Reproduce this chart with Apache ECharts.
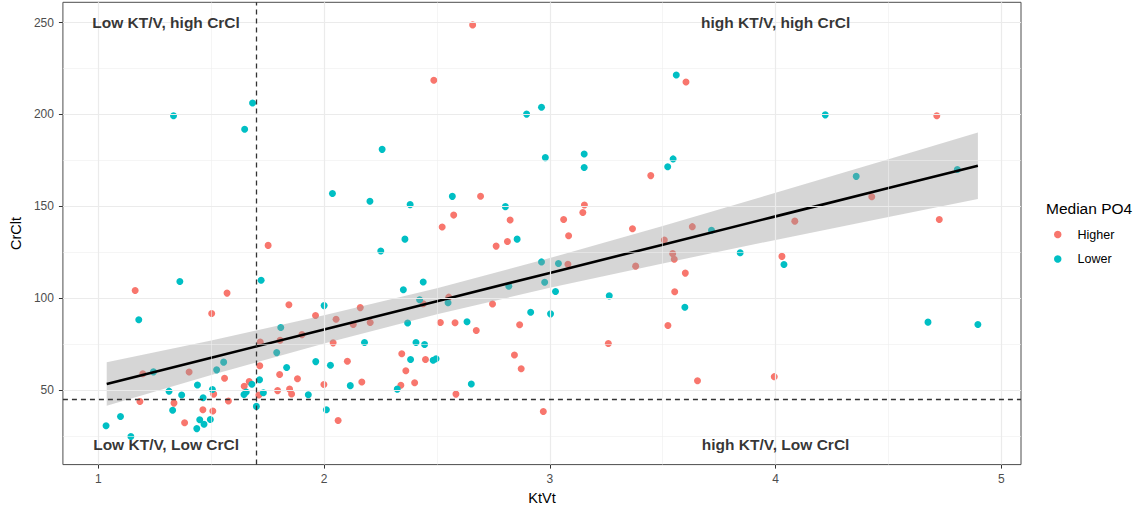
<!DOCTYPE html>
<html><head><meta charset="utf-8">
<script src="https://cdn.jsdelivr.net/npm/echarts@6/dist/echarts.min.js"></script>
<style>html,body{margin:0;padding:0;background:#fff}#c{width:1134px;height:510px}</style>
</head><body><div id="c"></div>
<script>
// ---- data (KtVt, CrClt) ----
const higher = [
[1.752,128.7],[1.163,104.1],[1.570,102.7],[1.502,91.6],[1.844,96.4],[1.962,90.5],[2.053,88.5],[2.160,94.8],
[2.204,86.7],[2.129,85.6],[1.902,80.1],[1.805,77.0],[1.717,76.0],[2.040,75.6],[1.402,59.7],[1.197,58.8],
[2.103,65.6],[1.715,63.1],[1.559,56.3],[1.803,58.4],[1.882,56.1],[1.668,54.5],[1.646,52.0],[1.999,52.9],
[2.167,54.3],[1.511,47.7],[1.711,47.2],[1.794,49.6],[1.847,50.4],[1.856,47.8],[1.184,43.7],[1.335,42.8],
[1.576,43.9],[1.463,39.2],[1.507,38.5],[1.382,32.1],[2.062,33.3],
[2.658,248.8],[2.486,218.6],[3.603,217.7],[3.447,166.7],[2.693,155.5],[2.574,145.2],[2.523,138.7],[2.824,142.5],
[3.153,150.7],[3.146,146.6],[3.061,142.8],[3.083,133.9],[3.366,137.8],[3.631,138.9],[3.507,131.6],[2.762,128.3],
[2.812,130.8],[3.080,118.4],[2.439,96.9],[2.552,100.5],[2.746,96.8],[3.380,117.4],[3.544,124.2],[3.551,121.1],
[3.600,113.6],[3.553,103.4],[3.523,85.1],[3.654,55.0],[2.515,86.7],[2.580,86.6],[2.674,82.3],[2.866,85.5],
[2.344,69.7],[2.449,66.5],[2.843,69.0],[2.873,61.5],[3.259,75.3],[2.362,60.4],[2.401,53.9],[2.340,52.5],
[2.584,47.7],[2.971,38.2],
[4.714,199.3],[4.426,155.2],[4.725,142.8],[4.085,141.9],[4.028,122.7],[3.994,57.2]
];
const lower = [
[1.333,199.3],[1.683,206.3],[1.648,192.0],[2.257,181.0],[2.037,157.0],[2.203,152.7],[2.251,125.6],[1.361,109.0],
[1.721,109.7],[1.179,88.2],[2.000,95.9],[1.808,84.0],[2.179,75.8],[1.790,70.3],[1.555,65.1],[1.524,60.9],
[1.244,59.8],[1.963,65.4],[2.028,63.4],[1.834,62.2],[1.714,55.5],[1.439,52.7],[1.680,53.1],[2.116,52.3],
[1.313,49.3],[1.505,50.2],[1.369,47.2],[1.655,48.8],[1.645,47.5],[1.731,48.4],[1.930,47.3],[1.464,45.7],
[1.329,38.9],[1.700,41.0],[2.010,39.2],[1.098,35.5],[1.449,33.7],[1.468,31.3],[1.496,33.9],[1.436,28.9],
[1.034,30.5],[1.144,24.6],
[3.560,221.5],[2.897,200.2],[2.963,203.9],[2.980,176.5],[3.152,178.5],[3.152,171.1],[3.546,175.8],[3.522,171.5],
[2.381,150.9],[2.568,155.4],[2.803,149.8],[2.358,132.1],[2.855,132.1],[3.716,136.9],[2.963,119.7],[3.038,118.8],
[2.977,108.6],[3.025,103.6],[2.818,106.5],[2.351,104.5],[2.439,108.8],[2.423,99.1],[2.549,97.5],[2.915,92.3],
[3.003,91.4],[3.263,101.2],[3.598,95.0],[2.370,86.4],[2.633,87.1],[2.407,75.8],[2.445,74.7],[2.383,66.5],
[2.483,66.1],[2.496,67.0],[2.324,50.4],[2.652,53.2],
[4.220,199.8],[4.357,166.3],[4.805,170.0],[3.843,124.7],[4.037,118.3],[4.675,86.9],[4.896,85.6]
];
// fitted line and confidence band
const fitX     = [1.037, 1.5,  2.0,  2.5,  3.0,   3.5,   4.0,   4.5,   4.896];
const fitY     = [53.2,  67.5, 82.9, 98.3, 113.7, 129.1, 144.5, 159.9, 172.1];
const fitLower = [41.3,  58.1, 75.2, 91.2, 105.6, 118.9, 131.7, 144.2, 153.9];
const fitUpper = [65.1,  76.9, 90.6, 105.4,121.8, 139.3, 157.3, 175.6, 190.2];
const ktvCut = 1.7;
const crclCut = 45;
const xTicks = [1, 2, 3, 4, 5];
const yTicks = [50, 100, 150, 200, 250];
const xMinor = [1.5, 2.5, 3.5, 4.5];
const yMinor = [25, 75, 125, 175, 225];
const quadrantLabels = ['Low KT/V, high CrCl', 'high KT/V, high CrCl', 'Low KT/V, Low CrCl', 'high KT/V, Low CrCl'];
const quadrantPos = [[1.3, 250], [4.0, 250], [1.3, 20], [4.0, 20]];

const FONT = 'Liberation Sans, Arial, sans-serif';
const chart = echarts.init(document.getElementById('c'), null, {renderer: 'svg'});

const gridLines = [];
yMinor.forEach(v => gridLines.push({yAxis: v, lineStyle: {color: '#EEEEEE', width: 0.6, type: 'solid'}}));
xMinor.forEach(v => gridLines.push({xAxis: v, lineStyle: {color: '#EEEEEE', width: 0.6, type: 'solid'}}));
yTicks.forEach(v => gridLines.push({yAxis: v, lineStyle: {color: '#EBEBEB', width: 1.2, type: 'solid'}}));
xTicks.forEach(v => gridLines.push({xAxis: v, lineStyle: {color: '#EBEBEB', width: 1.2, type: 'solid'}}));

const option = {
  animation: false,
  backgroundColor: '#fff',
  textStyle: {fontFamily: FONT},
  title: {
    text: 'Median PO4', left: 1046, top: 200, padding: 0,
    textStyle: {fontSize: 15.5, fontWeight: 'normal', color: '#000', fontFamily: FONT}
  },
  legend: {
    data: ['Higher', 'Lower'], orient: 'vertical', left: 1054, top: 228, padding: 0,
    icon: 'circle', itemWidth: 7.5, itemHeight: 7.5, itemGap: 11.5,
    textStyle: {fontSize: 12.5, color: '#000', fontFamily: FONT, padding: [0, 0, 0, 11]}
  },
  grid: {left: 58.3, right: 113, top: 2.3, bottom: 39.3, show: true, borderColor: '#4d4d4d', borderWidth: 1, backgroundColor: '#fff'},
  xAxis: {
    type: 'value', min: 0.843, max: 5.087,
    name: 'KtVt', nameLocation: 'middle', nameGap: 24,
    nameTextStyle: {fontSize: 14.5, color: '#000', fontFamily: FONT},
    axisLine: {show: false},
    axisTick: {show: true, length: 4, lineStyle: {color: '#333'}, customValues: xTicks},
    axisLabel: {show: true, margin: 8.5, fontSize: 12, color: '#4D4D4D', fontFamily: FONT, customValues: xTicks},
    splitLine: {show: false}
  },
  yAxis: {
    type: 'value', min: 9.3, max: 261.1,
    name: 'CrClt', nameLocation: 'middle', nameGap: 34,
    nameTextStyle: {fontSize: 14.5, color: '#000', fontFamily: FONT},
    axisLine: {show: false},
    axisTick: {show: true, length: 4, lineStyle: {color: '#333'}, customValues: yTicks},
    axisLabel: {show: true, margin: 9, fontSize: 12, color: '#4D4D4D', fontFamily: FONT, customValues: yTicks},
    splitLine: {show: false}
  },
  series: [
    {
      name: 'grid', type: 'line', data: [], z: 1, silent: true,
      markLine: {silent: true, symbol: ['none', 'none'], label: {show: false}, animation: false, data: gridLines}
    },
    {
      name: 'Higher', type: 'scatter', data: higher, symbol: 'circle', symbolSize: 7, z: 2,
      itemStyle: {color: '#F8766D', opacity: 1, borderWidth: 0}
    },
    {
      name: 'Lower', type: 'scatter', data: lower, symbol: 'circle', symbolSize: 7, z: 2,
      itemStyle: {color: '#00BFC4', opacity: 1, borderWidth: 0}
    },
    {
      name: 'band', type: 'custom', z: 3, silent: true,
      data: fitX.map((x, i) => [x, fitLower[i], fitUpper[i]]),
      encode: {x: 0, y: [1, 2]},
      renderItem: function (params, api) {
        if (params.dataIndex !== 0) return;
        const pts = [];
        for (let i = 0; i < fitX.length; i++) pts.push(api.coord([fitX[i], fitUpper[i]]));
        for (let i = fitX.length - 1; i >= 0; i--) pts.push(api.coord([fitX[i], fitLower[i]]));
        return {type: 'polygon', shape: {points: pts}, style: {fill: 'rgba(153,153,153,0.4)'}};
      }
    },
    {
      name: 'fit', type: 'line', z: 4, silent: true, symbol: 'none',
      data: fitX.map((x, i) => [x, fitY[i]]),
      lineStyle: {color: '#000', width: 2.6}
    },
    {
      name: 'cuts', type: 'line', data: [], z: 5, silent: true,
      markLine: {
        silent: true, symbol: ['none', 'none'], label: {show: false}, animation: false,
        lineStyle: {color: '#333', width: 1.3, type: [5, 4]},
        data: [{xAxis: ktvCut}, {yAxis: crclCut}]
      }
    },
    {
      name: 'labels', type: 'scatter', z: 6, silent: true, symbolSize: 1,
      itemStyle: {color: 'rgba(0,0,0,0)'},
      data: quadrantLabels.map((t, i) => ({name: t, value: quadrantPos[i]})),
      label: {show: true, position: 'inside', formatter: p => p.name, color: '#000', fontWeight: 'bold', fontSize: 15.5, fontFamily: FONT}
    }
  ]
};
chart.setOption(option);
</script></body></html>
